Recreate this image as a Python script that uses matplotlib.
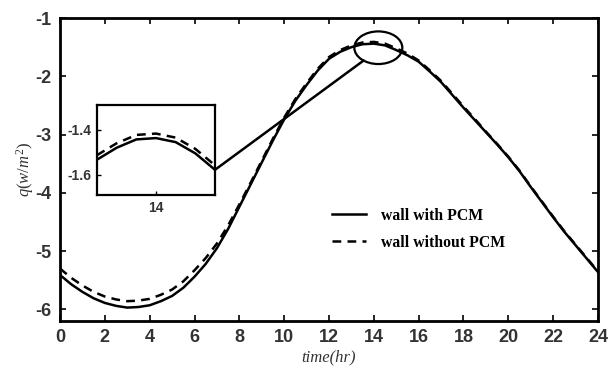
import matplotlib
matplotlib.use("Agg")
import matplotlib.pyplot as plt
from matplotlib.patches import Ellipse, ConnectionPatch
import numpy as np

# ---------------- data (every half hour)
hours = np.arange(0, 24.5, 0.5)
q_pcm = [-5.41, -5.57, -5.70, -5.81, -5.89, -5.94, -5.97, -5.96, -5.93,
         -5.86, -5.77, -5.63, -5.44, -5.22, -4.95, -4.62, -4.24, -3.86,
         -3.48, -3.10, -2.74, -2.42, -2.15, -1.90, -1.70, -1.58, -1.50,
         -1.45, -1.44, -1.47, -1.55, -1.64, -1.75, -1.92, -2.10, -2.32,
         -2.54, -2.75, -2.96, -3.17, -3.39, -3.63, -3.90, -4.16, -4.42,
         -4.67, -4.90, -5.13, -5.36]
q_nopcm = [-5.30, -5.46, -5.59, -5.70, -5.78, -5.83, -5.86, -5.85, -5.82,
           -5.75, -5.66, -5.52, -5.33, -5.12, -4.87, -4.56, -4.20, -3.83,
           -3.45, -3.07, -2.71, -2.39, -2.12, -1.87, -1.67, -1.55, -1.47,
           -1.42, -1.41, -1.44, -1.52, -1.61, -1.73, -1.90, -2.08, -2.30,
           -2.52, -2.73, -2.95, -3.16, -3.38, -3.62, -3.89, -4.15, -4.41,
           -4.66, -4.89, -5.12, -5.35]

# zoomed window around the peak
zoom_t = [12.8, 13.2, 13.6, 14.0, 14.4, 14.8, 15.2]
zoom_pcm = [-1.533, -1.480, -1.443, -1.437, -1.455, -1.505, -1.578]
zoom_nopcm = [-1.513, -1.460, -1.423, -1.417, -1.435, -1.485, -1.558]

zoom_center = (14.2, -1.51)
zoom_w = 2.14
zoom_h = 0.56

xticks = list(range(0, 25, 2))
yticks = [-6, -5, -4, -3, -2, -1]

plt.rcParams['axes.unicode_minus'] = False
plt.rcParams['mathtext.fontset'] = 'custom'
plt.rcParams['mathtext.it'] = 'Liberation Serif:italic'
plt.rcParams['mathtext.rm'] = 'Liberation Serif'

tickfam = ['Liberation Sans Narrow', 'Liberation Sans']

fig = plt.figure(figsize=(6.08, 3.87), dpi=100)
ax = fig.add_axes([60/608, 1-321/387, 538/608, 303/387])

ax.plot(hours, q_pcm, color='black', lw=1.8, label='wall with PCM')
ax.plot(hours, q_nopcm, color='black', lw=1.8, ls=(0, (3.5, 2.5)), label='wall without PCM')

ax.set_xlim(0, 24)
ax.set_ylim(-6.2, -1)
ax.set_xticks(xticks)
ax.set_yticks(yticks)
ax.tick_params(direction='in', length=4, width=1.2, top=True, right=True, pad=6)
for lab in ax.get_xticklabels() + ax.get_yticklabels():
    lab.set_fontfamily(tickfam)
    lab.set_fontweight('bold')
    lab.set_fontsize(13)
    lab.set_color('#333333')
for s in ax.spines.values():
    s.set_linewidth(2)

ax.set_xlabel('time(hr)', family='Liberation Serif', style='italic', fontsize=12,
              labelpad=2, color='#333333')
ax.set_ylabel(r'$q(w/m^2)$', fontsize=12, labelpad=0, color='#333333')

leg = ax.legend(frameon=False, loc='upper left', bbox_to_anchor=(324/608, 1-200/387),
                bbox_transform=fig.transFigure, borderpad=0, handlelength=2.2,
                handletextpad=0.95, labelspacing=0.7,
                prop=dict(family='Liberation Serif', weight='bold', size=11.3))

# zoom ellipse
ax.add_patch(Ellipse(zoom_center, zoom_w, zoom_h, fill=False, ec='black', lw=1.6))

# inset
axin = fig.add_axes([97/608, 1-195/387, 118/608, 90/387])
axin.plot(zoom_t, zoom_pcm, color='black', lw=1.8)
axin.plot(zoom_t, zoom_nopcm, color='black', lw=1.8, ls=(0, (3.5, 2.5)))
axin.set_xlim(zoom_t[0], zoom_t[-1])
axin.set_ylim(-1.69, -1.29)
axin.set_xticks([14])
axin.set_yticks([-1.6, -1.4])
axin.tick_params(direction='in', length=3, width=1, pad=4)
for lab in axin.get_xticklabels() + axin.get_yticklabels():
    lab.set_fontfamily(tickfam)
    lab.set_fontweight('bold')
    lab.set_fontsize(10)
    lab.set_color('#333333')
for s in axin.spines.values():
    s.set_linewidth(1.6)

# line from end of inset curve to the ellipse
ang = np.deg2rad(232)
ex = zoom_center[0] + zoom_w / 2 * np.cos(ang)
ey = zoom_center[1] + zoom_h / 2 * np.sin(ang)
con = ConnectionPatch(xyA=(zoom_t[-1], zoom_pcm[-1]), coordsA=axin.transData,
                      xyB=(ex, ey), coordsB=ax.transData, color='black', lw=1.8)
fig.add_artist(con)

fig.savefig('out.png', dpi=100)
